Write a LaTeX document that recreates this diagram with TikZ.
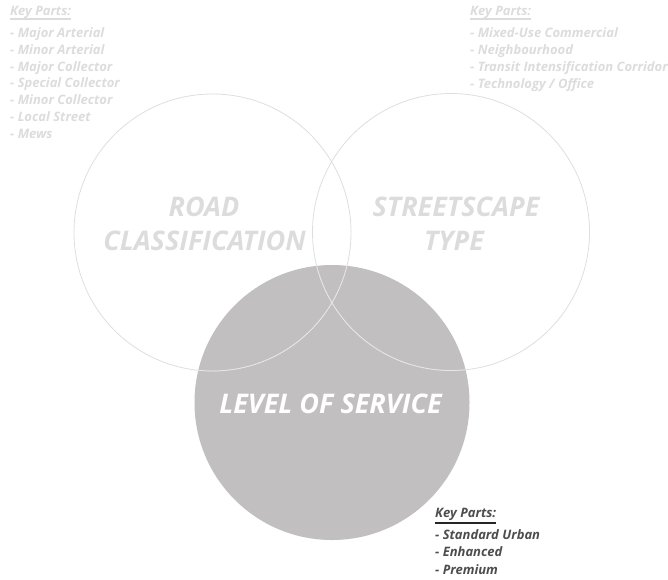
\documentclass[tikz,border=0pt]{standalone}
\usepackage{fontspec}
\setmainfont{Open Sans}
\begin{document}
\begin{tikzpicture}[x=1pt,y=-1pt,
  ring/.style={draw=ringgray,line width=0.8pt},
  listtxt/.style={font=\fontsize{13}{15}\selectfont\bfseries\itshape,anchor=base west,inner sep=0pt},
  bigtxt/.style={font=\fontsize{27}{32}\selectfont\bfseries\itshape,anchor=base,inner sep=0pt}]
\definecolor{ringgray}{HTML}{DEDEDE}
\definecolor{lighttxt}{HTML}{DCDCDC}
\definecolor{fillgray}{HTML}{C1BFC0}
\definecolor{darktxt}{HTML}{4D4D4D}
\useasboundingbox (0,0) rectangle (668,579);
% circles
\fill[fillgray] (332,402.5) circle (137.5);
\node[circle,minimum size=277pt,ring,inner sep=0pt] (road) at (212.5,232.5) {};
\node[circle,minimum size=277pt,ring,inner sep=0pt] (street) at (451,232) {};
\begin{scope}
  \clip (332,402.5) circle (137.5);
  \draw[draw=white!70!fillgray,line width=0.7pt,dash pattern=on 1pt off 0.7pt] (212.5,232.5) circle (138.5);
  \draw[draw=white!70!fillgray,line width=0.7pt,dash pattern=on 1pt off 0.7pt] (451,232) circle (138.5);
\end{scope}
\node[circle,minimum size=275pt,inner sep=0pt] (los) at (332,402.5) {};
% big labels
\node[bigtxt,text=lighttxt] (roadA) at (204,216.5) {ROAD};
\node[bigtxt,text=lighttxt] (roadB) at (204.5,250) {CLASSIFICATION};
\node[bigtxt,text=lighttxt] (stA) at (456,216.5) {STREETSCAPE};
\node[bigtxt,text=lighttxt] (stB) at (454,250) {TYPE};
\node[bigtxt,text=white] (losT) at (330.5,413.3) {LEVEL OF SERVICE};
% left key parts
\node[listtxt,text=lighttxt] (lk) at (10,15) {Key Parts:};
\draw[lighttxt,line width=1.6pt] (lk.base west)++(0,4) coordinate (lu1) -- (lk.base east|-lu1);
\node[listtxt,text=lighttxt] (l1) at (10,37.5) {- Major Arterial};
\node[listtxt,text=lighttxt] (l2) at (10,54.3) {- Minor Arterial};
\node[listtxt,text=lighttxt] (l3) at (10,71) {- Major Collector};
\node[listtxt,text=lighttxt] (l4) at (10,87.8) {- Special Collector};
\node[listtxt,text=lighttxt] (l5) at (10,104.5) {- Minor Collector};
\node[listtxt,text=lighttxt] (l6) at (10,121.2) {- Local Street};
\node[listtxt,text=lighttxt] (l7) at (10,138) {- Mews};
% right key parts
\node[listtxt,text=lighttxt] (rk) at (470,15) {Key Parts:};
\draw[lighttxt,line width=1.6pt] (rk.base west)++(0,4) coordinate (ru1) -- (rk.base east|-ru1);
\node[listtxt,text=lighttxt] (r1) at (470,37) {- Mixed-Use Commercial};
\node[listtxt,text=lighttxt] (r2) at (470,54.3) {- Neighbourhood};
\node[listtxt,text=lighttxt] (r3) at (470,71.5) {- Transit Intensification Corridor};
\node[listtxt,text=lighttxt] (r4) at (470,88.2) {- Technology / Office};
% bottom key parts
\node[listtxt,text=darktxt] (bk) at (435,517.7) {Key Parts:};
\draw[black!85,line width=1.8pt] (bk.base west)++(0,5.5) coordinate (bu1) -- (bk.base east|-bu1);
\node[listtxt,text=darktxt] (b1) at (435,539.3) {- Standard Urban};
\node[listtxt,text=darktxt] (b2) at (435,556.7) {- Enhanced};
\node[listtxt,text=darktxt] (b3) at (435,574) {- Premium};
\end{tikzpicture}
\end{document}
